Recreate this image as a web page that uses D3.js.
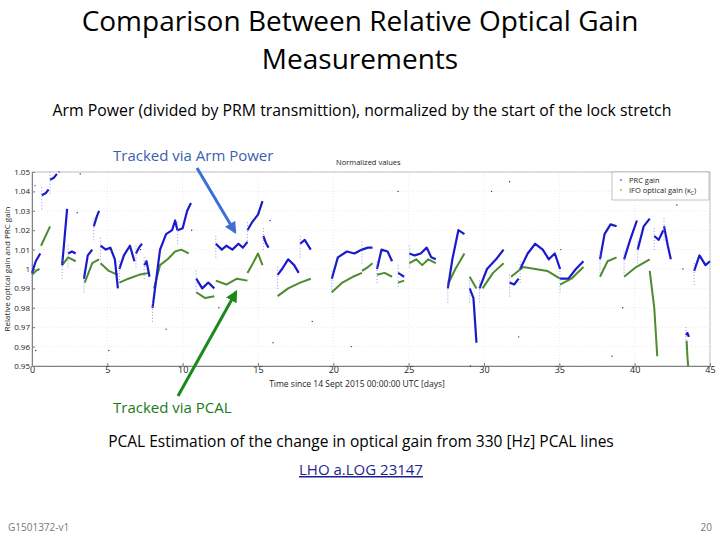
<!DOCTYPE html>
<html>
<head>
<meta charset="utf-8">
<script src="https://cdn.jsdelivr.net/npm/d3@7"></script>
<style>
  body { margin: 0; background: #fff; }
  text { font-family: "Open Sans", "Liberation Sans", sans-serif; }
</style>
</head>
<body>
<script>
// lock stretches, [day, value]
var prcSegments = [
  [[0, 0.998], [0.25, 1.004], [0.55, 1.008]],
  [[0.65, 1.038], [0.9, 1.039], [1.1, 1.041]],
  [[1.2, 1.046], [1.45, 1.047], [1.65, 1.049]],
  [[2.0, 1.002], [2.15, 1.015], [2.33, 1.031]],
  [[2.4, 1.008], [2.65, 1.009], [2.9, 1.008]],
  [[3.45, 0.995], [3.7, 1.007], [4.0, 1.01]],
  [[4.1, 1.022], [4.3, 1.027], [4.45, 1.03]],
  [[4.55, 1.012], [4.9, 1.01], [5.2, 1.011], [5.5, 1.005], [5.7, 0.99]],
  [[5.8, 1.0], [6.1, 1.007], [6.5, 1.012], [6.8, 1.004]],
  [[6.9, 1.008], [7.1, 1.011], [7.3, 1.013]],
  [[7.45, 1.002], [7.6, 1.004], [7.8, 0.996]],
  [[8.0, 0.98], [8.5, 1.01], [8.9, 1.018], [9.3, 1.02], [9.5, 1.025], [9.65, 1.02]],
  [[9.67, 1.02], [10.0, 1.021], [10.3, 1.03], [10.55, 1.034]],
  [[10.9, 0.995], [11.3, 0.99], [11.7, 0.993], [12.1, 0.99]],
  [[12.2, 1.013], [12.6, 1.01], [12.9, 1.012], [13.3, 1.01], [13.7, 1.013], [14.0, 1.011], [14.3, 1.014]],
  [[14.3, 1.02], [14.6, 1.024], [15.0, 1.028], [15.3, 1.035]],
  [[15.35, 1.017], [15.55, 1.013], [15.7, 1.011]],
  [[16.3, 0.997], [16.6, 1.0], [17.0, 1.005], [17.4, 1.002], [17.7, 0.998]],
  [[17.8, 1.013], [18.1, 1.015], [18.5, 1.01]],
  [[19.9, 0.995], [20.3, 1.006], [20.9, 1.009], [21.4, 1.008], [21.9, 1.01]],
  [[21.9, 1.01], [22.3, 1.011], [22.6, 1.011]],
  [[22.9, 1.0], [23.2, 1.01], [23.6, 1.009], [23.9, 1.004]],
  [[24.3, 0.998], [24.5, 0.997], [24.7, 0.996]],
  [[25.05, 1.008], [25.4, 1.007], [25.8, 1.008], [26.2, 1.011], [26.5, 1.006], [26.8, 1.005]],
  [[27.6, 0.99], [27.9, 1.005], [28.3, 1.02], [28.7, 1.018]],
  [[29.05, 0.99], [29.3, 0.985], [29.5, 0.962]],
  [[29.7, 0.99], [30.2, 1.0], [30.8, 1.005], [31.3, 1.01]],
  [[31.7, 0.993], [32.0, 0.992], [32.3, 0.995]],
  [[32.4, 1.0], [32.9, 1.008], [33.4, 1.013], [33.9, 1.01], [34.3, 1.005], [34.7, 1.008], [35.05, 1.0]],
  [[35.05, 0.995], [35.6, 0.995], [36.1, 1.0], [36.6, 1.004]],
  [[37.7, 1.005], [38.0, 1.018], [38.4, 1.023], [38.8, 1.022]],
  [[39.3, 1.005], [39.7, 1.015], [40.15, 1.025]],
  [[40.2, 1.01], [40.6, 1.022], [41.0, 1.026]],
  [[41.3, 1.017], [41.6, 1.015], [41.9, 1.02]],
  [[41.95, 1.022], [42.2, 1.012], [42.4, 1.005]],
  [[43.4, 0.966], [43.5, 0.967], [43.6, 0.965]],
  [[43.95, 0.999], [44.3, 1.007], [44.7, 1.002], [45, 1.004]]
];

var ifoSegments = [
  [[0, 0.997], [0.25, 0.999], [0.5, 1.0]],
  [[0.6, 1.012], [0.9, 1.017], [1.2, 1.022]],
  [[2.0, 1.002], [2.4, 1.006], [2.9, 1.004]],
  [[3.5, 0.993], [4.0, 1.003], [4.45, 1.005]],
  [[4.55, 1.003], [5.1, 0.999], [5.7, 0.997]],
  [[5.8, 0.993], [6.4, 0.995], [7.1, 0.997], [7.8, 0.998]],
  [[8.1, 0.99], [8.5, 1.002], [9.0, 1.005], [9.5, 1.009], [9.9, 1.01], [10.4, 1.008]],
  [[10.9, 0.988], [11.5, 0.985], [12.1, 0.986]],
  [[12.2, 0.994], [12.9, 0.992], [13.6, 0.995], [14.3, 0.994]],
  [[14.3, 0.998], [14.6, 1.002], [15.0, 1.008], [15.3, 1.002]],
  [[16.3, 0.986], [17.0, 0.99], [17.8, 0.993], [18.5, 0.995]],
  [[19.9, 0.988], [20.6, 0.993], [21.3, 0.996], [21.9, 0.998]],
  [[21.9, 0.999], [22.3, 1.001], [22.6, 1.003]],
  [[22.9, 0.997], [23.4, 0.998], [23.9, 0.996]],
  [[24.3, 0.993], [24.7, 0.994]],
  [[25.05, 1.003], [25.5, 1.005], [25.9, 1.002], [26.3, 1.005], [26.8, 1.003]],
  [[27.6, 0.992], [28.1, 1.0], [28.7, 1.008]],
  [[29.05, 0.996], [29.5, 0.99]],
  [[29.9, 0.99], [30.6, 0.998], [31.3, 1.003]],
  [[31.8, 0.996], [32.6, 1.001], [33.4, 1.0], [34.2, 0.999], [35.05, 0.995]],
  [[35.05, 0.992], [35.8, 0.995], [36.6, 1.001]],
  [[37.7, 0.996], [38.2, 1.004], [38.8, 1.006]],
  [[39.3, 0.996], [40.1, 1.001], [41.0, 1.005]],
  [[41.0, 0.999], [41.3, 0.98], [41.5, 0.955]],
  [[43.45, 0.963], [43.5, 0.955], [43.55, 0.95]]
];

// stray samples between lock stretches
var prcOutliers = [
  [0.2, 1.043], [0.25, 0.958], [1.8, 1.05], [3.0, 1.029], [3.2, 1.049], [5.1, 0.958],
  [7.2, 1.01], [8.9, 0.969], [10.6, 1.02], [12.4, 0.98], [15.8, 1.025], [16.0, 0.962],
  [18.6, 0.973], [21.2, 0.96], [24.3, 1.04], [29.1, 0.95], [30.5, 1.04], [31.7, 1.045],
  [32.3, 0.965], [35.1, 1.01], [38.5, 0.955], [39.2, 0.98], [42.8, 1.033], [43.2, 1.0]
];

var yTicks = [0.95, 0.96, 0.97, 0.98, 0.99, 1, 1.01, 1.02, 1.03, 1.04, 1.05];
var xTicks = [0, 5, 10, 15, 20, 25, 30, 35, 40, 45];

var W = 720, H = 540;
var svg = d3.select("body").append("svg").attr("width", W).attr("height", H);

var x = d3.scaleLinear().domain([0, 45]).range([32, 710]);
var y = d3.scaleLinear().domain([0.95, 1.05]).range([366, 172]);

// slide text
svg.append("text").attr("x", 360).attr("y", 31).attr("text-anchor", "middle")
  .attr("font-size", 28).text("Comparison Between Relative Optical Gain");
svg.append("text").attr("x", 360).attr("y", 69).attr("text-anchor", "middle")
  .attr("font-size", 28).text("Measurements");
svg.append("text").attr("x", 362).attr("y", 116).attr("text-anchor", "middle")
  .attr("font-size", 15.8).text("Arm Power (divided by PRM transmittion), normalized by the start of the lock stretch");

// plot grid
var g = svg.append("g");
g.selectAll(".gy").data(yTicks).enter().append("line")
  .attr("x1", 32).attr("x2", 710).attr("y1", y).attr("y2", y)
  .attr("stroke", "#ddd").attr("stroke-width", 0.6).attr("stroke-dasharray", "1,2");
g.selectAll(".gx").data(xTicks).enter().append("line")
  .attr("y1", 172).attr("y2", 366).attr("x1", x).attr("x2", x)
  .attr("stroke", "#ddd").attr("stroke-width", 0.6).attr("stroke-dasharray", "1,2");

g.append("g").attr("transform", "translate(0,366)")
  .call(d3.axisBottom(x).tickValues(xTicks).tickSize(-3).tickPadding(1))
  .call(a => a.selectAll("text").attr("font-size", 9).attr("fill", "#222"))
  .call(a => a.selectAll("path,line").attr("stroke", "#777"));
g.append("g").attr("transform", "translate(32,0)")
  .call(d3.axisLeft(y).tickValues(yTicks).tickSize(-3).tickPadding(2).tickFormat(d3.format("")))
  .call(a => a.selectAll("text").attr("font-size", 8).attr("fill", "#222"))
  .call(a => a.selectAll("path,line").attr("stroke", "#777"));
g.append("rect").attr("x", 32).attr("y", 172).attr("width", 678).attr("height", 194)
  .attr("fill", "none").attr("stroke", "#999").attr("stroke-width", 0.6);

var line = d3.line().x(d => x(d[0])).y(d => y(d[1]));

g.selectAll(".ifo").data(ifoSegments).enter().append("path")
  .attr("d", line).attr("fill", "none").attr("stroke", "#4e8a2e").attr("stroke-width", 2)
  .attr("stroke-linejoin", "round");
g.selectAll(".prc").data(prcSegments).enter().append("path")
  .attr("d", line).attr("fill", "none").attr("stroke", "#1a1acc").attr("stroke-width", 2.2)
  .attr("stroke-linejoin", "round");

// vertical specks at start of each stretch
g.selectAll(".drop").data(prcSegments).enter().append("line")
  .attr("x1", d => x(d[0][0])).attr("x2", d => x(d[0][0]))
  .attr("y1", d => y(d[0][1]) - 8).attr("y2", d => y(d[0][1]) + 14)
  .attr("stroke", "#7f7fe0").attr("stroke-width", 0.8).attr("stroke-dasharray", "1,2");
g.selectAll(".out").data(prcOutliers).enter().append("circle")
  .attr("cx", d => x(d[0])).attr("cy", d => y(d[1])).attr("r", 0.7).attr("fill", "#2a2aaa");

svg.append("text").attr("x", 336).attr("y", 165).attr("font-size", 7.5).attr("fill", "#222").text("Normalized values");
svg.append("text").attr("x", 357).attr("y", 387).attr("text-anchor", "middle")
  .attr("font-size", 8.5).attr("fill", "#222").text("Time since 14 Sept 2015 00:00:00 UTC [days]");
svg.append("text").attr("transform", "translate(10,269) rotate(-90)").attr("text-anchor", "middle")
  .attr("font-size", 8).attr("fill", "#222").text("Relative optical gain and PRC gain");

// legend
var lg = svg.append("g");
lg.append("rect").attr("x", 612).attr("y", 172).attr("width", 97).attr("height", 28)
  .attr("fill", "#fff").attr("stroke", "#999").attr("stroke-width", 0.6);
lg.append("circle").attr("cx", 621).attr("cy", 180).attr("r", 0.8).attr("fill", "#1a1acc");
lg.append("circle").attr("cx", 621).attr("cy", 190).attr("r", 0.8).attr("fill", "#4e8a2e");
lg.append("text").attr("x", 629).attr("y", 183).attr("font-size", 7.5).attr("fill", "#222").text("PRC gain");
var t2 = lg.append("text").attr("x", 629).attr("y", 193).attr("font-size", 7.5).attr("fill", "#222");
t2.append("tspan").text("IFO optical gain (κ");
t2.append("tspan").attr("font-size", 5).attr("dy", 2).text("C");
t2.append("tspan").attr("dy", -2).text(")");

// annotations
var defs = svg.append("defs");
[["ab", "#3f6fd6"], ["ag", "#1a8a1a"]].forEach(function(m) {
  defs.append("marker").attr("id", m[0]).attr("viewBox", "0 0 10 10").attr("refX", 8).attr("refY", 5)
    .attr("markerWidth", 4).attr("markerHeight", 4).attr("orient", "auto")
    .append("path").attr("d", "M0,0L10,5L0,10z").attr("fill", m[1]);
});
svg.append("line").attr("x1", 197).attr("y1", 168).attr("x2", 235).attr("y2", 232)
  .attr("stroke", "#3f6fd6").attr("stroke-width", 3).attr("marker-end", "url(#ab)");
svg.append("line").attr("x1", 178).attr("y1", 396).attr("x2", 236).attr("y2", 292)
  .attr("stroke", "#1a8a1a").attr("stroke-width", 3).attr("marker-end", "url(#ag)");
svg.append("text").attr("x", 113).attr("y", 161).attr("font-size", 15).attr("fill", "#3a5fb0").text("Tracked via Arm Power");
svg.append("text").attr("x", 113).attr("y", 413).attr("font-size", 15).attr("fill", "#1a7a1a").text("Tracked via PCAL");

svg.append("text").attr("x", 361).attr("y", 447).attr("text-anchor", "middle")
  .attr("font-size", 15.5).text("PCAL Estimation of the change in optical gain from 330 [Hz] PCAL lines");
svg.append("text").attr("x", 361).attr("y", 475).attr("text-anchor", "middle")
  .attr("font-size", 15).attr("fill", "#1f1f8f").attr("text-decoration", "underline").text("LHO a.LOG 23147");

svg.append("text").attr("x", 8).attr("y", 531).attr("font-size", 10).attr("fill", "#777").text("G1501372-v1");
svg.append("text").attr("x", 712).attr("y", 531).attr("text-anchor", "end").attr("font-size", 10).attr("fill", "#777").text("20");
</script>
</body>
</html>
